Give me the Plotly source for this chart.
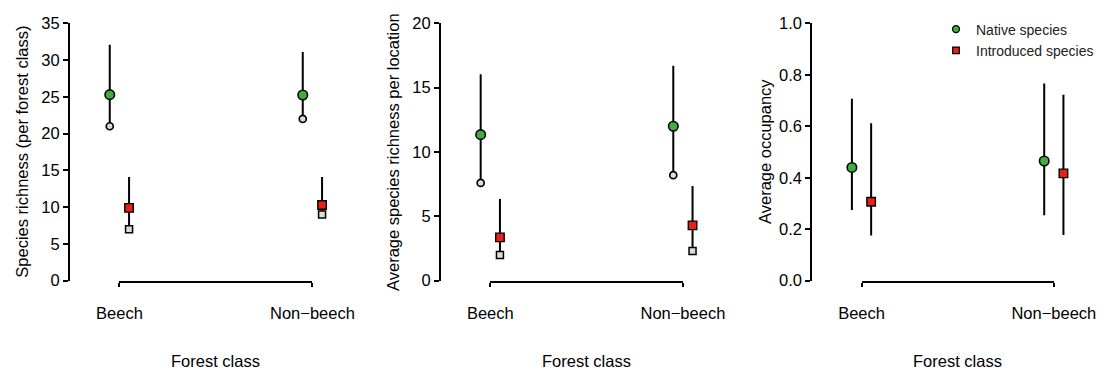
import plotly.graph_objects as go

# ---------------- data ----------------
categories = ["Beech", "Non\u2212beech"]
cat_pos = [1, 2]
offset = 0.05

# Panel 1: species richness per forest class
p1_native_est = [25.3, 25.25]
p1_native_hi = [32.1, 31.1]
p1_native_lo = [21.5, 22.5]
p1_native_obs = [21.0, 22.0]
p1_intro_est = [9.9, 10.3]
p1_intro_hi = [14.1, 14.1]
p1_intro_lo = [7.5, 9.5]
p1_intro_obs = [7.0, 9.0]

# Panel 2: average species richness per location
p2_native_est = [11.35, 12.0]
p2_native_hi = [16.05, 16.7]
p2_native_lo = [7.9, 8.5]
p2_native_obs = [7.6, 8.2]
p2_intro_est = [3.37, 4.3]
p2_intro_hi = [6.35, 7.35]
p2_intro_lo = [2.3, 2.6]
p2_intro_obs = [2.0, 2.3]

# Panel 3: average occupancy
p3_native_est = [0.44, 0.465]
p3_native_hi = [0.707, 0.766]
p3_native_lo = [0.275, 0.254]
p3_intro_est = [0.307, 0.417]
p3_intro_hi = [0.612, 0.722]
p3_intro_lo = [0.176, 0.178]

y_titles = ["Species richness (per forest class)",
            "Average species richness per location",
            "Average occupancy"]
y_max = [35, 20, 1.0]
y_dtick = [5, 5, 0.2]
y_fmt = ["d", "d", ".1f"]
x_title = "Forest class"
legend_names = ["Native species", "Introduced species"]

# ---------------- styling / layout geometry ----------------
W, H = 1102, 372
GREEN = "#3fae3f"
RED = "#e8201c"
GRAY = "#dcdcdc"
FONT = "Liberation Sans, Arial, Helvetica, sans-serif"
FS = 16.5


def fx(px):
    return px / W


def fy(py):
    return 1 - py / H


panel_left_px = [70, 441, 812.3]
panel_ppu = [193, 192.6, 192.3]
panel_ytitle_px = [21.7, 393, 765]
xmin = 0.744
xmax_default = 2.256
y_top_px, y_bot_px = 23.3, 280.7
ydom = [fy(y_bot_px), fy(y_top_px)]

fig = go.Figure()
annotations = []

panels = [
    (p1_native_est, p1_native_hi, p1_native_lo, p1_native_obs,
     p1_intro_est, p1_intro_hi, p1_intro_lo, p1_intro_obs),
    (p2_native_est, p2_native_hi, p2_native_lo, p2_native_obs,
     p2_intro_est, p2_intro_hi, p2_intro_lo, p2_intro_obs),
    (p3_native_est, p3_native_hi, p3_native_lo, None,
     p3_intro_est, p3_intro_hi, p3_intro_lo, None),
]

for i, (n_est, n_hi, n_lo, n_obs, i_est, i_hi, i_lo, i_obs) in enumerate(panels):
    k = i + 1
    xa = "x" if k == 1 else f"x{k}"
    ya = "y" if k == 1 else f"y{k}"
    bk = k + 3
    xb = f"x{bk}"
    left = panel_left_px[i]
    ppu = panel_ppu[i]
    right = min(left + (xmax_default - xmin) * ppu, W)
    xmax = xmin + (right - left) / ppu
    xn = [p - offset for p in cat_pos]
    xi = [p + offset for p in cat_pos]

    # anchor trace for the bracket axis (category axis)
    fig.add_trace(go.Scatter(x=cat_pos, y=[0, 0], xaxis=xb, yaxis=ya, mode="none",
                             showlegend=False, hoverinfo="skip"))

    # observed (gray) markers
    if n_obs is not None:
        fig.add_trace(go.Scatter(x=xn, y=n_obs, xaxis=xa, yaxis=ya, mode="markers",
                                 marker=dict(symbol="circle", size=7, color=GRAY,
                                             line=dict(color="black", width=1.7)),
                                 showlegend=False, hoverinfo="skip", cliponaxis=False))
        fig.add_trace(go.Scatter(x=xi, y=i_obs, xaxis=xa, yaxis=ya, mode="markers",
                                 marker=dict(symbol="square", size=7, color=GRAY,
                                             line=dict(color="black", width=1.5)),
                                 showlegend=False, hoverinfo="skip", cliponaxis=False))

    # estimates with intervals
    fig.add_trace(go.Scatter(
        x=xn, y=n_est, xaxis=xa, yaxis=ya, mode="markers",
        error_y=dict(type="data", symmetric=False,
                     array=[h - e for h, e in zip(n_hi, n_est)],
                     arrayminus=[e - l for e, l in zip(n_est, n_lo)],
                     color="black", thickness=2, width=0),
        marker=dict(symbol="circle", size=9.5, color=GREEN,
                    line=dict(color="black", width=1.6)),
        showlegend=False, hoverinfo="skip", cliponaxis=False))
    fig.add_trace(go.Scatter(
        x=xi, y=i_est, xaxis=xa, yaxis=ya, mode="markers",
        error_y=dict(type="data", symmetric=False,
                     array=[h - e for h, e in zip(i_hi, i_est)],
                     arrayminus=[e - l for e, l in zip(i_est, i_lo)],
                     color="black", thickness=2, width=0),
        marker=dict(symbol="square", size=8.5, color=RED,
                    line=dict(color="black", width=1.4)),
        showlegend=False, hoverinfo="skip", cliponaxis=False))

    xdom = [fx(left), min(fx(right), 1.0)]
    bdom = [fx(left + (cat_pos[0] - xmin) * ppu), fx(left + (cat_pos[1] - xmin) * ppu)]

    fig.layout[("xaxis" if k == 1 else f"xaxis{k}")] = dict(
        domain=xdom, range=[xmin, xmax], anchor=ya, visible=False,
        fixedrange=True, automargin=False)
    fig.layout[f"xaxis{bk}"] = dict(
        domain=bdom, range=[cat_pos[0], cat_pos[1]], anchor=ya,
        tickmode="array", tickvals=cat_pos, ticktext=categories,
        showline=True, linewidth=2, linecolor="black",
        ticks="outside", ticklen=4, tickwidth=2, tickcolor="black",
        showgrid=False, zeroline=False, ticklabelstandoff=12, automargin=False,
        tickfont=dict(size=FS, color="black", family=FONT))
    fig.layout[("yaxis" if k == 1 else f"yaxis{k}")] = dict(
        domain=ydom, range=[0, y_max[i]], anchor=xa,
        tickmode="linear", tick0=0, dtick=y_dtick[i], tickformat=y_fmt[i],
        showline=True, linewidth=2, linecolor="black",
        ticks="outside", ticklen=5, tickwidth=2, tickcolor="black",
        showgrid=False, zeroline=False, automargin=False,
        tickfont=dict(size=FS, color="black", family=FONT))

    annotations.append(dict(text=y_titles[i], xref="paper", yref="paper",
                            x=fx(panel_ytitle_px[i]), y=fy(152),
                            xanchor="center", yanchor="middle", textangle=-90,
                            showarrow=False, font=dict(size=FS, color="black", family=FONT)))
    annotations.append(dict(text=x_title, xref="paper", yref="paper",
                            x=(bdom[0] + bdom[1]) / 2, y=fy(361),
                            xanchor="center", yanchor="middle",
                            showarrow=False, font=dict(size=FS, color="black", family=FONT)))

# legend-only traces
fig.add_trace(go.Scatter(x=[None], y=[None], mode="markers", name=legend_names[0],
                         xaxis="x3", yaxis="y3",
                         marker=dict(symbol="circle", size=7, color=GREEN,
                                     line=dict(color="black", width=1.3))))
fig.add_trace(go.Scatter(x=[None], y=[None], mode="markers", name=legend_names[1],
                         xaxis="x3", yaxis="y3",
                         marker=dict(symbol="square", size=6.5, color=RED,
                                     line=dict(color="black", width=1.3))))

fig.update_layout(
    width=W, height=H,
    margin=dict(l=0, r=0, t=0, b=0, autoexpand=False),
    paper_bgcolor="white", plot_bgcolor="rgba(0,0,0,0)",
    font=dict(family=FONT, size=FS, color="black"),
    annotations=annotations,
    showlegend=True,
    legend=dict(x=fx(1099), y=fy(13.5), xanchor="right", yanchor="top",
                bgcolor="rgba(0,0,0,0)", borderwidth=0, tracegroupgap=0,
                font=dict(size=14, color="#222222", family=FONT)),
)

fig.write_html("out.html",
               config={"displayModeBar": False},
               post_script="document.body.style.margin='0';document.body.style.overflow='hidden';")
